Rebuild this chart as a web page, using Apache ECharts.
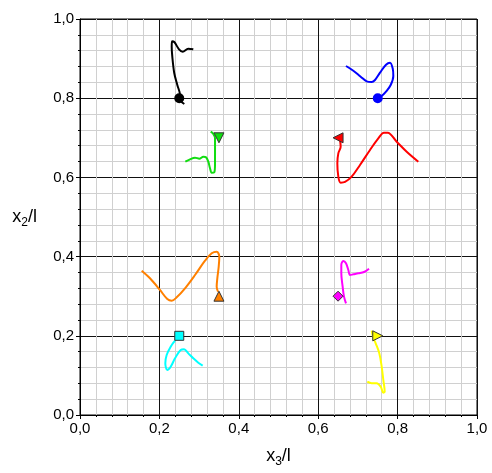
<!DOCTYPE html>
<html><head><meta charset="utf-8">
<script src="https://cdn.jsdelivr.net/npm/echarts@6/dist/echarts.min.js"></script>
<style>html,body{margin:0;padding:0;background:#fff}#c{width:492px;height:473px}</style>
</head><body><div id="c"></div>
<script>
// Trajectories [x3/l, x2/l]
const blackPath = [[0.2627,0.7854],[0.250,0.800],[0.2519,0.8081],[0.2451,0.8333],[0.2375,0.8629],[0.2325,0.9048],[0.2310,0.9301],[0.2317,0.9437],[0.2375,0.9419],[0.2494,0.9235],[0.2587,0.9174],[0.2728,0.9250],[0.2854,0.9235]];
const bluePath = [[0.670,0.8813],[0.6885,0.8694],[0.7070,0.8543],[0.7221,0.8426],[0.7347,0.8409],[0.7431,0.8460],[0.7557,0.8644],[0.7708,0.8846],[0.7809,0.8897],[0.7876,0.8754],[0.7892,0.8561],[0.7826,0.8333],[0.7708,0.8164],[0.7599,0.8056],[0.7514,0.8005]];
const greenPath = [[0.2653,0.6397],[0.2771,0.6457],[0.2897,0.6498],[0.3006,0.6473],[0.3106,0.6523],[0.3174,0.6507],[0.3232,0.6397],[0.3275,0.6229],[0.3317,0.6119],[0.3383,0.6129],[0.3401,0.6355],[0.3401,0.6692],[0.3401,0.6987],[0.3358,0.7096],[0.3292,0.7154]];
const redPath = [[0.6549,0.6944],[0.6566,0.6776],[0.6507,0.6608],[0.6482,0.6355],[0.6507,0.6018],[0.6566,0.5866],[0.6675,0.5884],[0.6843,0.6018],[0.7053,0.6313],[0.7305,0.6692],[0.7514,0.6987],[0.7657,0.7129],[0.7750,0.7129],[0.7977,0.6902],[0.8229,0.6649],[0.8522,0.6397]];
const orangePath = [[0.1554,0.3644],[0.1763,0.3452],[0.2015,0.3157],[0.2199,0.2929],[0.2310,0.2886],[0.2436,0.2972],[0.2645,0.3199],[0.2897,0.3535],[0.3149,0.3896],[0.3317,0.4083],[0.3443,0.4124],[0.3509,0.3997],[0.3494,0.3745],[0.3459,0.3452],[0.3443,0.3240],[0.3476,0.3114]];
const magentaPath = [[0.670,0.2820],[0.6650,0.2988],[0.6616,0.3240],[0.6582,0.3577],[0.6582,0.3788],[0.6633,0.3889],[0.670,0.3830],[0.6759,0.3662],[0.6801,0.3535],[0.6885,0.3552],[0.7010,0.3577],[0.7154,0.3611],[0.7280,0.3694]];
const cyanPath = [[0.2393,0.1876],[0.2284,0.1725],[0.2183,0.1515],[0.2149,0.1306],[0.2199,0.1136],[0.2284,0.1220],[0.2393,0.1431],[0.2536,0.1641],[0.2620,0.1659],[0.2728,0.1557],[0.2854,0.1431],[0.2980,0.1321],[0.3090,0.1245]];
const yellowPath = [[0.7348,0.2129],[0.7380,0.1977],[0.7448,0.1811],[0.7539,0.1558],[0.7599,0.1220],[0.7640,0.0884],[0.7675,0.0588],[0.7640,0.0563],[0.7574,0.0715],[0.7473,0.0800],[0.7347,0.0800],[0.7237,0.0841]];
// Starting points (markers)
const startPoints = [[0.25,0.80],[0.75,0.80],[0.35,0.70],[0.65,0.70],[0.35,0.30],[0.65,0.30],[0.25,0.20],[0.75,0.20]];
const xTicks = [0,0.2,0.4,0.6,0.8,1.0];

const fmt = v => v.toFixed(1).replace('.', ',');
const paths = [blackPath,bluePath,greenPath,redPath,orangePath,magentaPath,cyanPath,yellowPath];
const colors = ['#000000','#0000ff','#11dd11','#ff0000','#ff8000','#ff00ff','#00ffff','#ffff00'];
const symbols = ['circle','circle','triangle','triangle','triangle','diamond','rect','triangle'];
const rots = [0,0,180,90,0,0,0,-90];
const sizes = [10,10,10,10,10,10,9,10];
const borders = [0,0,1,1,1,1,1,1];

const series = [];
paths.forEach((p,i)=>{
  series.push({type:'line', data:p, smooth:0.35, symbol:'none', lineStyle:{color:colors[i], width:2}, z:3});
});
startPoints.forEach((p,i)=>{
  series.push({type:'scatter', data:[p], symbol:symbols[i], symbolRotate:rots[i], symbolSize:sizes[i],
    itemStyle:{color:colors[i], borderColor:'#333', borderWidth:borders[i], opacity:1}, z:5});
});

const FF = 'Liberation Sans, Arial, sans-serif';
const axisCommon = {
  min:0, max:1, interval:0.2,
  axisLine:{show:true, onZero:false, lineStyle:{color:'#000', width:1}},
  axisTick:{show:true, length:4, lineStyle:{color:'#000'}},
  minorTick:{show:true, splitNumber:5, length:2, lineStyle:{color:'#000'}},
  splitLine:{show:true, lineStyle:{color:'#111', width:1}},
  minorSplitLine:{show:true, lineStyle:{color:'#d0d0d0', width:1}},
  axisLabel:{formatter:fmt, color:'#000', fontSize:15, fontFamily:FF, margin:6}
};
const nameRich = {a:{fontSize:18, color:'#000', fontFamily:FF}, s:{fontSize:12, color:'#000', fontFamily:FF, padding:[11,0,0,0]}};

const chart = echarts.init(document.getElementById('c'), null, {renderer:'canvas'});
chart.setOption({
  animation:false,
  backgroundColor:'#fff',
  grid:{left:80, top:19, width:397, height:396, show:true, borderColor:'#000', borderWidth:1, backgroundColor:'transparent'},
  xAxis:Object.assign({}, axisCommon, {type:'value',
    name:'{a|x}{s|3}{a|/l}', nameLocation:'middle', nameGap:30,
    nameTextStyle:{rich:nameRich}
  }),
  yAxis:Object.assign({}, axisCommon, {type:'value',
    name:'{a|x}{s|2}{a|/l}', nameLocation:'middle', nameGap:43, nameRotate:0,
    nameTextStyle:{rich:nameRich}
  }),
  series:series
});
</script></body></html>
